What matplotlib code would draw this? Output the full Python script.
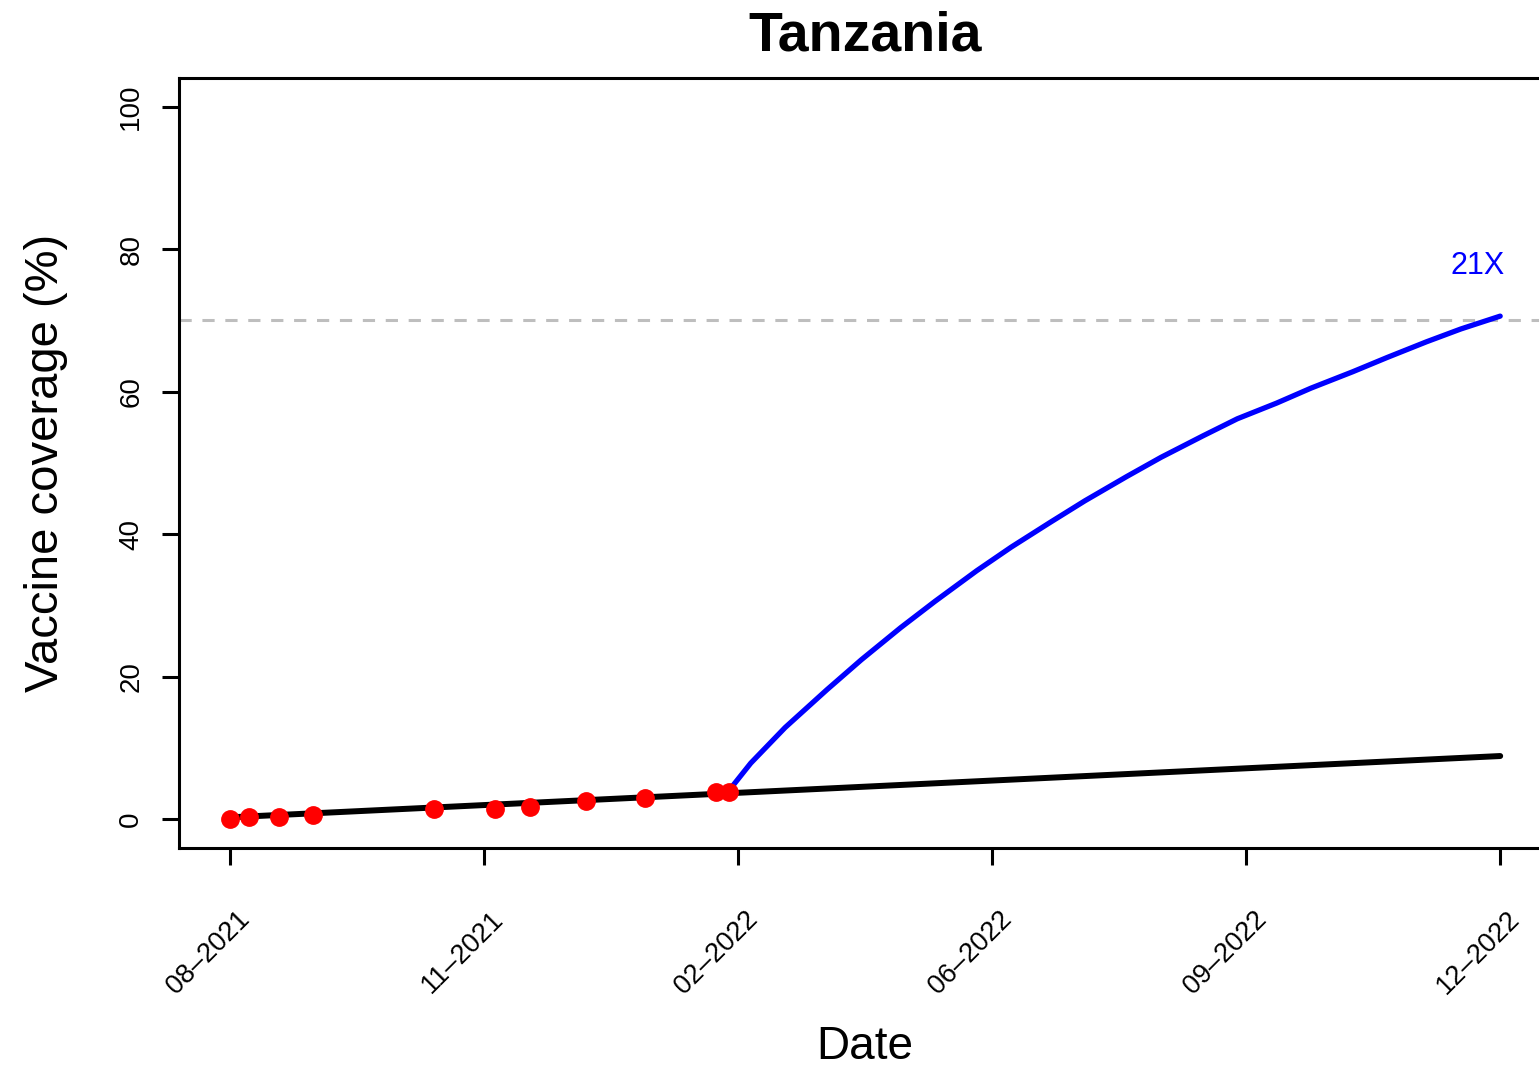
'''Vaccine coverage projection for Tanzania'''
import numpy as np
import pandas as pd
import matplotlib
matplotlib.use('Agg')
import matplotlib.pyplot as plt
import matplotlib.dates as mdates

plt.rcParams['font.family'] = ['Liberation Sans', 'DejaVu Sans']

# observed coverage (red points)
obs_dates = ['2021-08-01', '2021-08-09', '2021-08-21', '2021-09-04', '2021-10-23',
             '2021-11-17', '2021-12-01', '2021-12-24', '2022-01-17', '2022-02-15',
             '2022-02-20']
obs_values = [0.1, 0.3, 0.4, 0.6, 1.5, 1.5, 1.7, 2.6, 3.0, 3.8, 3.9]

# current-pace trend (black)
trend_dates = ['2021-08-01', '2022-12-31']
trend_values = [0.3, 8.9]

# required pace to reach target (blue)
target_dates = ['2022-02-20', '2022-03-01', '2022-03-15', '2022-04-01', '2022-04-15',
                '2022-05-01', '2022-05-15', '2022-06-01', '2022-06-15', '2022-07-01',
                '2022-07-15', '2022-08-01', '2022-08-15', '2022-09-01', '2022-09-15',
                '2022-10-01', '2022-10-15', '2022-11-01', '2022-11-15', '2022-12-01',
                '2022-12-15', '2022-12-31']
target_values = [4.0, 7.9, 12.9, 18.2, 22.4,
                 26.9, 30.6, 34.9, 38.2, 41.7,
                 44.7, 48.1, 50.8, 53.8, 56.2,
                 58.4, 60.5, 62.8, 64.8, 67.0,
                 68.8, 70.6]

target_level = 70
speedup_label = '21X'
speedup_label_date = '2022-12-22'
speedup_label_y = 77.6

start, end = '2021-08-01', '2022-12-31'

obs_x = mdates.date2num(pd.to_datetime(obs_dates))
trend_x = mdates.date2num(pd.to_datetime(trend_dates))
target_x = mdates.date2num(pd.to_datetime(target_dates))
x0, x1 = mdates.date2num(pd.to_datetime([start, end]))

fig = plt.figure(figsize=(15.39, 10.72), dpi=100)
ax = fig.add_axes([179 / 1539, 224 / 1072, (1551 - 179) / 1539, (848 - 78) / 1072])

ax.axhline(target_level, color='#BEBEBE', lw=2.2, dashes=(4, 3.5))
ax.plot(trend_x, trend_values, color='black', lw=4.3, solid_capstyle='round')
ax.plot(target_x, target_values, color='blue', lw=3.8, solid_capstyle='round',
        solid_joinstyle='round')
ax.plot(obs_x, obs_values, 'o', color='red', ms=12.5, zorder=5)
ax.text(mdates.date2num(pd.to_datetime(speedup_label_date)), speedup_label_y,
        speedup_label, color='blue', fontsize=22, ha='center', va='center')

span = x1 - x0
ax.set_xlim(x0 - 0.04 * span, x1 + 0.04 * span)
ax.set_ylim(-4, 104)

# x ticks with rotated labels placed like R's text(srt=45, adj=1)
tick_x = np.linspace(x0, x1, 6)
ax.set_xticks(tick_x)
ax.set_xticklabels([])
for t in tick_x:
    ax.annotate(mdates.num2date(t).strftime('%m\u2013%Y'), xy=(t, 0),
                xycoords=ax.get_xaxis_transform(), xytext=(5, -42),
                textcoords='offset points', rotation=45, ha='right', va='top',
                rotation_mode='anchor', fontsize=19.5, annotation_clip=False)

ax.set_yticks([0, 20, 40, 60, 80, 100])
ax.set_yticklabels(['0', '20', '40', '60', '80', '100'], rotation=90, va='center', fontsize=20)

ax.tick_params(axis='both', length=12, width=2.2, color='black')
ax.tick_params(axis='y', pad=13)
for s in ax.spines.values():
    s.set_linewidth(2.2)

ax.set_title('Tanzania', fontsize=40, fontweight='bold', pad=20)
ax.set_xlabel('Date', fontsize=33, labelpad=112)
ax.set_ylabel('Vaccine coverage (%)', fontsize=34, labelpad=36)

fig.savefig('out.png', dpi=100)
